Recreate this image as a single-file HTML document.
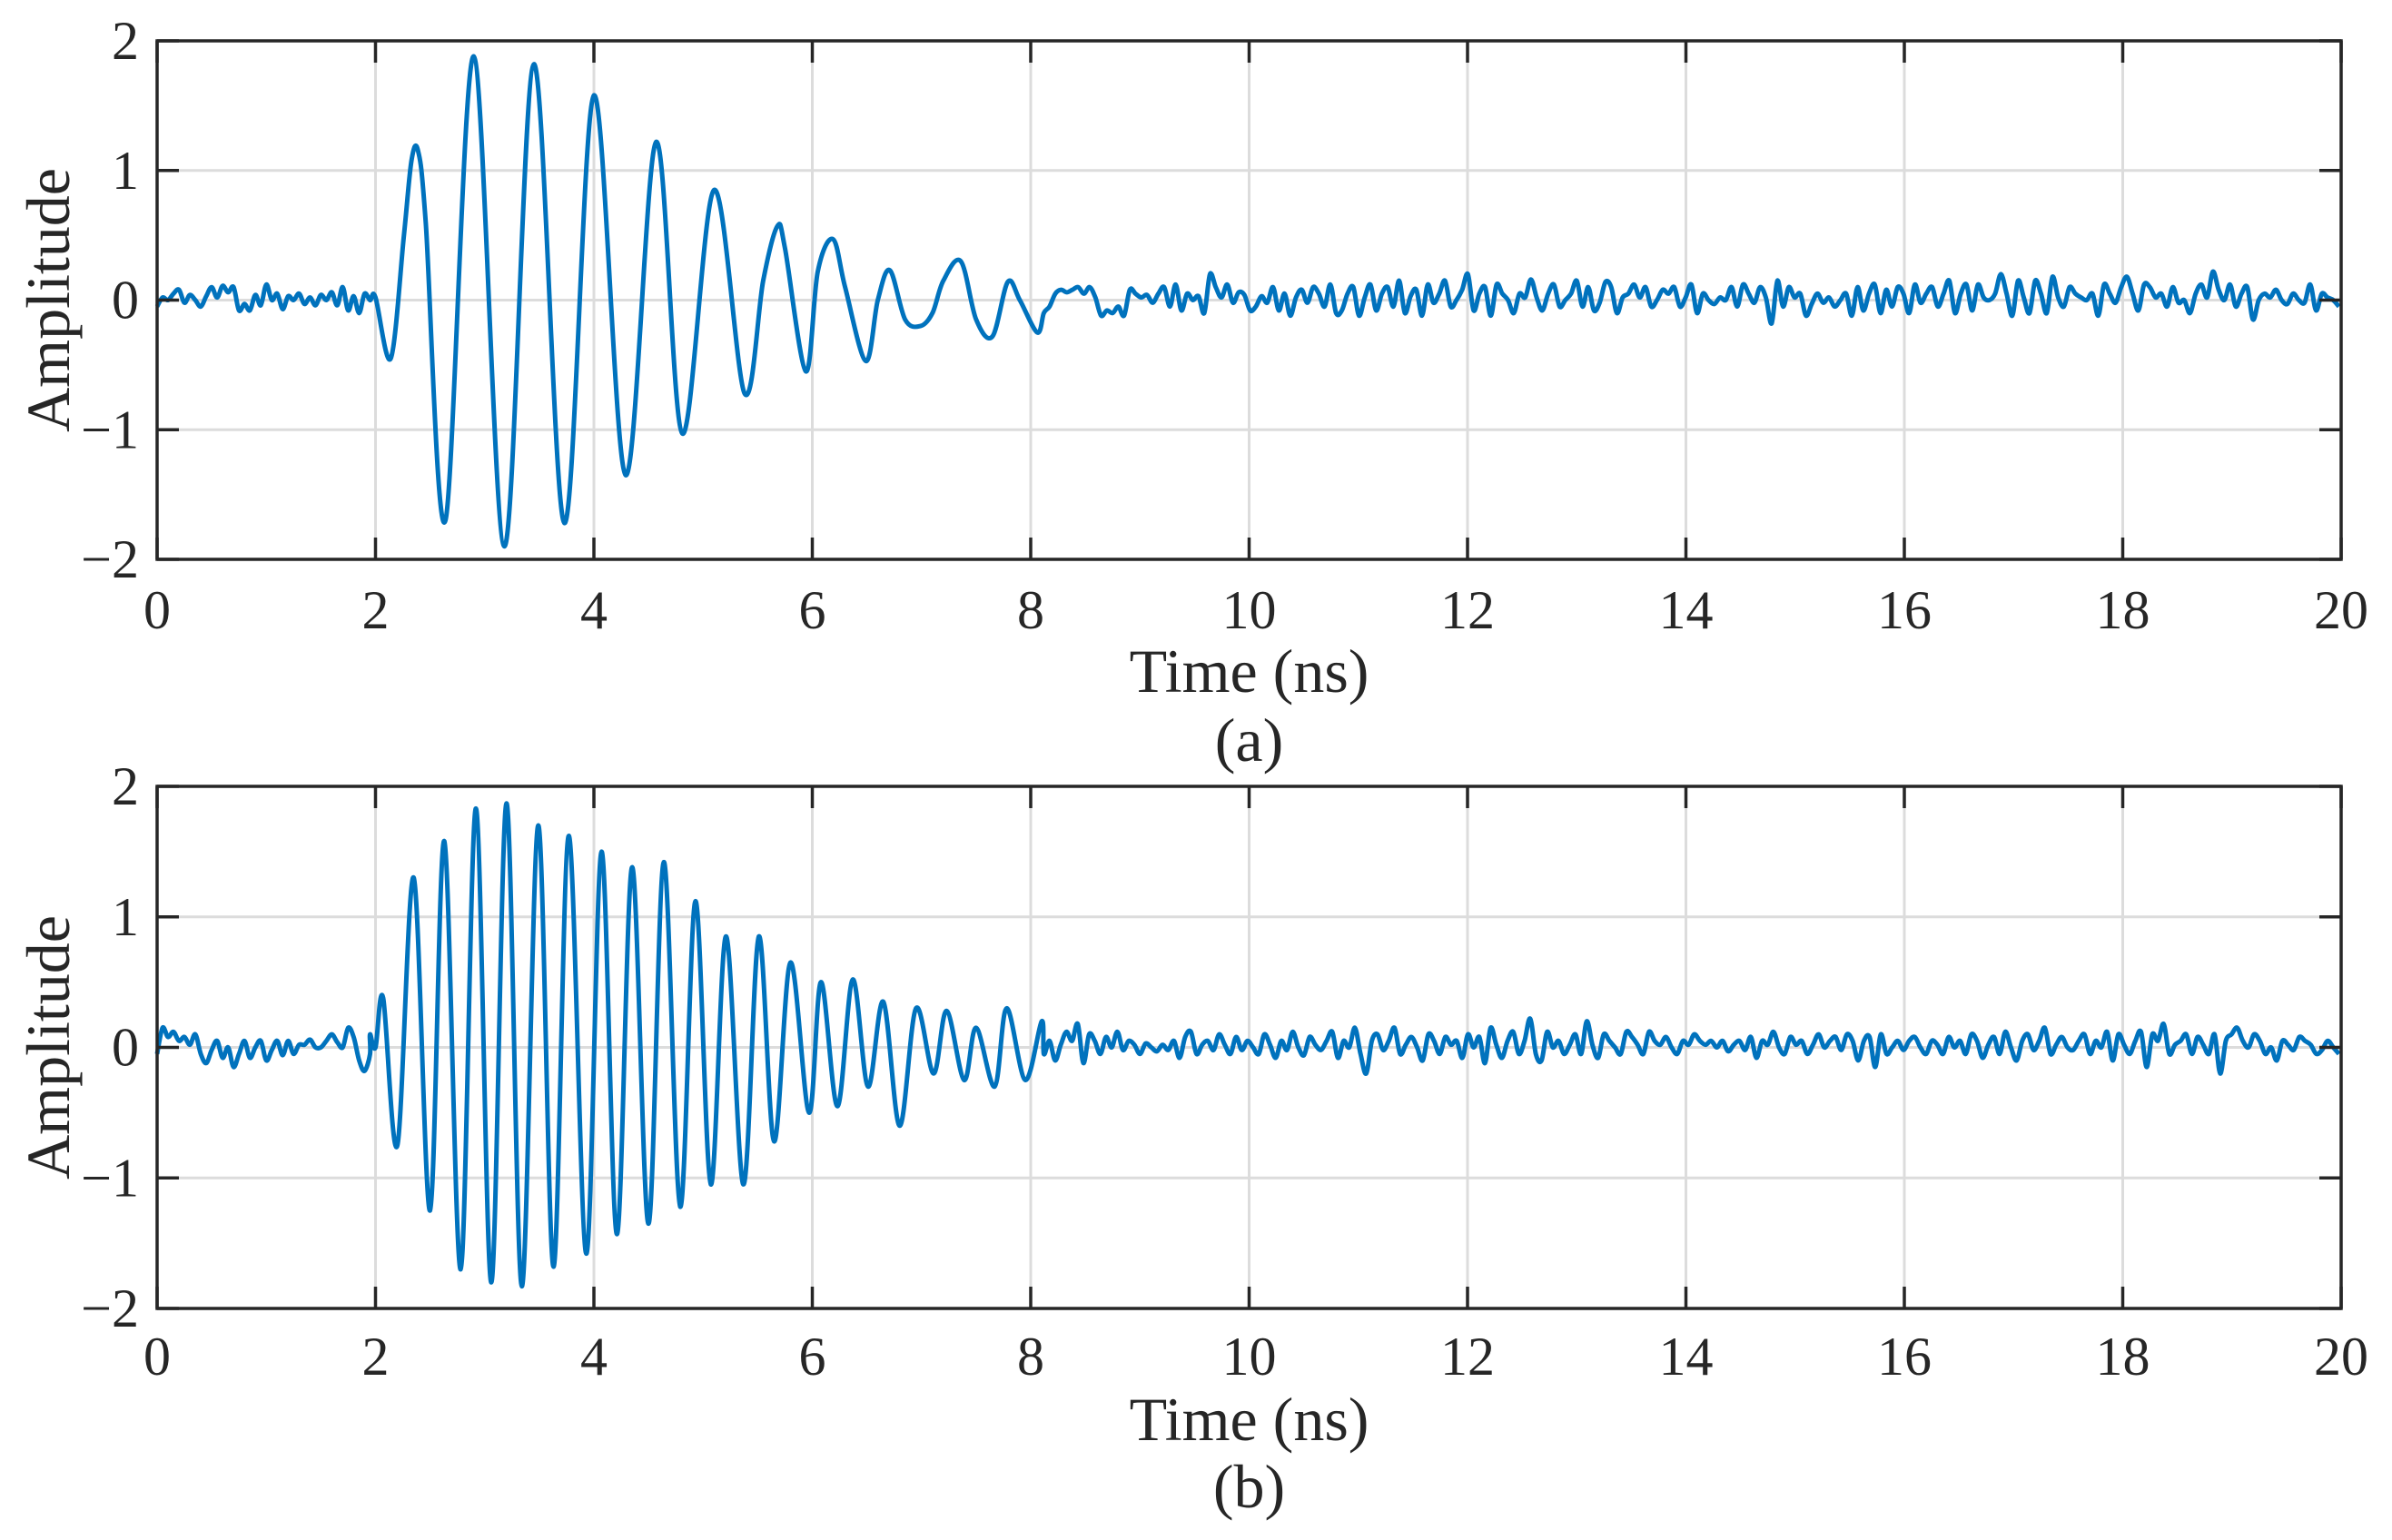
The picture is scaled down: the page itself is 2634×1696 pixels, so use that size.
<!DOCTYPE html>
<html><head><meta charset="utf-8"><style>
html,body{margin:0;padding:0;background:#fff}
svg{display:block}
text{font-family:"Liberation Serif",serif;fill:#262626}
</style></head><body>
<svg id="fig" width="2634" height="1696" viewBox="0 0 2634 1696" xmlns="http://www.w3.org/2000/svg"></svg>
<script>
// ---- data ----
const xTicks=[0,2,4,6,8,10,12,14,16,18,20];
const yTicks=[-2,-1,0,1,2];
// (a) pre-burst noise, t = 0..1.95 step 0.05
const noiseAPre=[-0.05,0.02,0.0,0.05,0.08,-0.02,0.04,0.0,-0.05,0.03,0.1,0.02,0.11,0.06,0.1,-0.08,-0.03,-0.08,0.04,-0.04,0.12,0.0,0.05,-0.07,0.03,0.0,0.05,-0.03,0.02,-0.04,0.04,0.0,0.06,-0.04,0.1,-0.08,0.03,-0.1,0.05,0.0];
// (a) burst peaks: times (ns) and amplitudes
const burstAT=[2.0,2.14,2.26,2.33,2.39,2.46,2.64,2.9,3.18,3.45,3.73,4.0,4.29,4.57,4.81,5.1,5.38,5.55,5.68,5.75,5.94,6.05,6.19,6.3,6.49,6.6,6.71,6.85,6.99,7.1,7.2,7.36,7.5,7.65,7.79,7.9,8.06];
const burstAV=[0.02,-0.45,0.5,1.08,1.15,0.6,-1.7,1.88,-1.9,1.82,-1.72,1.58,-1.35,1.22,-1.03,0.85,-0.72,0.15,0.57,0.4,-0.55,0.22,0.47,0.1,-0.47,0.0,0.23,-0.15,-0.2,-0.1,0.15,0.3,-0.15,-0.28,0.14,0.0,-0.25];
// (a) post-burst noise, t = 8.1..20
const noiseAPost=[-0.1,-0.05,0.05,0.08,0.06,0.08,0.1,0.05,0.1,0.02,-0.12,-0.08,-0.1,-0.05,-0.12,0.08,0.05,0.02,0.04,-0.02,0.05,0.1,-0.05,0.12,-0.08,0.05,0.0,0.03,-0.1,0.2,0.1,0.02,0.12,-0.02,0.06,0.04,-0.08,-0.05,0.03,-0.02,0.1,-0.08,0.05,-0.12,0.02,0.08,-0.02,0.1,0.05,-0.05,0.12,-0.1,-0.08,0.05,0.1,-0.12,0.02,0.12,-0.08,0.05,0.1,-0.05,0.15,-0.1,0.03,0.08,-0.12,0.12,-0.02,0.05,0.15,-0.05,0.0,0.08,0.2,-0.08,0.05,0.1,-0.12,0.12,0.05,0.0,-0.1,0.05,0.02,0.16,0.02,-0.08,0.05,0.12,-0.05,0.0,0.05,0.15,-0.05,0.1,-0.08,-0.02,0.14,0.1,-0.1,0.02,0.05,0.12,0.02,0.1,-0.05,0.0,0.08,0.05,0.1,-0.05,0.02,0.12,-0.1,0.05,0.0,-0.03,0.02,0.0,0.1,-0.05,0.12,0.05,-0.02,0.1,0.02,-0.18,0.15,-0.05,0.1,0.02,0.05,-0.12,-0.03,0.05,-0.02,0.02,-0.05,0.0,0.05,-0.12,0.1,-0.08,0.05,0.12,-0.1,0.08,-0.05,0.1,0.05,-0.1,0.12,-0.02,0.05,0.1,-0.05,0.05,0.15,-0.1,0.05,0.12,-0.08,0.12,0.02,0.0,0.05,0.2,0.05,-0.12,0.15,0.02,-0.1,0.15,0.05,-0.1,0.18,0.02,-0.05,0.1,0.05,0.02,0.0,0.05,-0.12,0.12,0.05,-0.02,0.1,0.18,0.05,-0.08,0.12,0.1,0.02,0.05,-0.05,0.1,-0.02,0.0,-0.1,0.05,0.12,0.02,0.22,0.08,0.0,0.12,-0.05,0.05,0.1,-0.15,0.0,0.05,0.02,0.08,0.0,-0.03,0.05,0.0,-0.02,0.12,-0.08,0.05,0.02,0.0,-0.05];
// (b) pre-burst noise
const noiseBPre=[-0.05,0.15,0.08,0.12,0.05,0.08,0.02,0.1,-0.05,-0.12,-0.02,0.05,-0.08,0.0,-0.15,-0.05,0.05,-0.08,0.0,0.05,-0.1,-0.02,0.05,-0.06,0.05,-0.05,0.02,0.02,0.06,0.0,0.0,0.05,0.1,0.04,0.0,0.15,0.08,-0.1,-0.18,-0.05];
// (b) burst peaks
const burstBT=[1.95,2.0,2.07,2.2,2.35,2.5,2.63,2.78,2.92,3.06,3.2,3.34,3.49,3.63,3.77,3.93,4.07,4.21,4.35,4.5,4.64,4.79,4.93,5.07,5.21,5.37,5.51,5.65,5.8,5.97,6.08,6.23,6.37,6.51,6.65,6.8,6.95,7.11,7.23,7.39,7.5,7.67,7.78,7.95,8.1];
const burstBV=[0.1,0.0,0.38,-0.75,1.3,-1.25,1.58,-1.7,1.83,-1.8,1.87,-1.83,1.7,-1.68,1.62,-1.58,1.5,-1.43,1.38,-1.35,1.42,-1.22,1.12,-1.05,0.85,-1.05,0.85,-0.72,0.65,-0.5,0.5,-0.45,0.52,-0.3,0.35,-0.6,0.3,-0.2,0.28,-0.25,0.15,-0.3,0.3,-0.25,0.2];
// (b) post-burst noise
const noiseBPost=[-0.05,0.05,-0.1,0.02,0.12,0.05,0.18,-0.12,0.1,0.05,-0.05,0.08,0.0,0.12,-0.02,0.05,0.02,-0.05,0.03,0.0,-0.03,0.02,-0.02,0.05,-0.08,0.08,0.12,-0.05,0.02,0.05,-0.02,0.1,0.02,-0.05,0.08,-0.02,0.05,0.0,-0.05,0.1,0.02,-0.08,0.05,-0.02,0.12,0.0,-0.06,0.08,0.02,-0.02,0.05,0.12,-0.08,0.05,0.0,0.15,-0.05,-0.2,0.05,0.1,-0.02,0.05,0.15,-0.05,0.02,0.08,0.0,-0.1,0.1,0.05,-0.05,0.08,0.02,0.05,-0.08,0.1,0.0,0.08,-0.12,0.15,0.02,-0.08,0.05,0.12,-0.05,0.05,0.22,-0.05,-0.1,0.12,0.0,0.05,-0.05,0.02,0.1,-0.05,0.2,0.02,-0.08,0.1,0.05,0.0,-0.05,0.12,0.08,0.02,-0.05,0.12,0.05,0.02,0.08,0.0,-0.05,0.05,0.02,0.1,0.05,0.02,0.05,0.0,0.05,-0.03,0.02,0.05,-0.02,0.08,-0.08,0.05,0.02,0.12,0.0,-0.05,0.08,0.02,0.05,-0.05,0.02,0.1,0.0,0.05,0.08,-0.02,0.1,0.05,-0.1,0.05,0.08,-0.15,0.1,-0.05,0.0,0.05,-0.02,0.05,0.08,0.0,-0.05,0.05,0.02,-0.05,0.08,0.0,0.05,-0.05,0.1,0.05,-0.08,0.02,0.08,-0.05,0.12,0.0,-0.1,0.05,0.1,-0.02,0.05,0.15,-0.05,0.02,0.08,0.0,-0.02,0.05,0.1,-0.05,0.05,0.0,0.12,-0.1,0.1,0.02,-0.05,0.05,0.12,-0.15,0.1,0.05,0.18,-0.05,0.02,0.05,0.1,-0.05,0.08,0.02,-0.05,0.1,-0.2,0.05,0.1,0.15,0.05,0.0,0.1,0.05,-0.05,0.0,-0.1,0.05,0.02,-0.02,0.08,0.05,0.02,-0.05,-0.02,0.05,0.0,-0.05];

// ---- layout ----
const NS="http://www.w3.org/2000/svg";
const svg=document.getElementById('fig');
const X0=173,X1=2578;
function mk(tag,attrs,parent){const e=document.createElementNS(NS,tag);for(const k in attrs)e.setAttribute(k,attrs[k]);(parent||svg).appendChild(e);return e;}
function series(pre,bT,bV,post){
  const pts=[];
  pre.forEach((v,i)=>pts.push([i*0.05,v]));
  bT.forEach((t,i)=>pts.push([t,bV[i]]));
  const step=(19.98-8.12)/(post.length-1);
  post.forEach((v,i)=>pts.push([8.12+i*step,v]));
  return pts;
}
function smoothPath(P){
  let d='M'+P[0][0].toFixed(1)+' '+P[0][1].toFixed(1);
  for(let i=0;i<P.length-1;i++){
    const p0=P[i-1]||P[i],p1=P[i],p2=P[i+1],p3=P[i+2]||P[i+1];
    const k=0.5/3;
    const c1=[p1[0]+(p2[0]-p0[0])*k,p1[1]+(p2[1]-p0[1])*k];
    const c2=[p2[0]-(p3[0]-p1[0])*k,p2[1]-(p3[1]-p1[1])*k];
    d+='C'+c1[0].toFixed(1)+' '+c1[1].toFixed(1)+' '+c2[0].toFixed(1)+' '+c2[1].toFixed(1)+' '+p2[0].toFixed(1)+' '+p2[1].toFixed(1);
  }
  return d;
}
function panel(id,Y0,Y1,pts,labelY,timeY,capY,cap){
  const sx=t=>X0+(t-0)/(20-0)*(X1-X0);
  const sy=v=>Y1-(v+2)/4*(Y1-Y0);
  const g=mk('g',{});
  
  
  xTicks.forEach(t=>{
    if(t>0&&t<20){const l=mk('line',{x1:sx(t),x2:sx(t),y1:Y0,y2:Y1,stroke:'#dcdcdc','stroke-width':3},g);
    }
  });
  yTicks.forEach(v=>{
    if(v>-2&&v<2){const l=mk('line',{x1:X0,x2:X1,y1:sy(v),y2:sy(v),stroke:'#dcdcdc','stroke-width':3},g);
    }
  });
  const P=pts.map(p=>[sx(p[0]),sy(p[1])]);
  const path=mk('path',{d:smoothPath(P),fill:'none',stroke:'#0072BD','stroke-width':5,'stroke-linejoin':'round'},g);
  
  
  const box=mk('rect',{x:X0,y:Y0,width:X1-X0,height:Y1-Y0,fill:'none',stroke:'#262626','stroke-width':3.5},g);
  
  xTicks.forEach(t=>{
    mk('line',{x1:sx(t),x2:sx(t),y1:Y1,y2:Y1-24,stroke:'#262626','stroke-width':3.5},g);
    mk('line',{x1:sx(t),x2:sx(t),y1:Y0,y2:Y0+24,stroke:'#262626','stroke-width':3.5},g);
    const tx=mk('text',{x:sx(t),y:labelY,'text-anchor':'middle','font-size':60},g);
    tx.textContent=t;
    
  });
  yTicks.forEach(v=>{
    mk('line',{x1:X0,x2:X0+24,y1:sy(v),y2:sy(v),stroke:'#262626','stroke-width':3.5},g);
    mk('line',{x1:X1,x2:X1-24,y1:sy(v),y2:sy(v),stroke:'#262626','stroke-width':3.5},g);
    const tx=mk('text',{x:153,y:sy(v)+20,'text-anchor':'end','font-size':60},g);
    tx.textContent=v<0?'\u2212'+(-v):v;
    
  });
  const xt=mk('text',{x:(X0+X1)/2,y:timeY,'text-anchor':'middle','font-size':68},g);
  xt.textContent='Time (ns)';
  
  const yt=mk('text',{x:0,y:0,'text-anchor':'middle','font-size':68,transform:`translate(76,${(Y0+Y1)/2}) rotate(-90)`},g);
  yt.textContent='Amplitude';
  
  const c=mk('text',{x:(X0+X1)/2,y:capY,'text-anchor':'middle','font-size':68},g);
  c.textContent=cap;
  
}
panel('a',45,616,series(noiseAPre,burstAT,burstAV,noiseAPost),692,762,838,'(a)');
panel('b',866,1441,series(noiseBPre,burstBT,burstBV,noiseBPost),1514,1586,1660,'(b)');
</script>
</body></html>
